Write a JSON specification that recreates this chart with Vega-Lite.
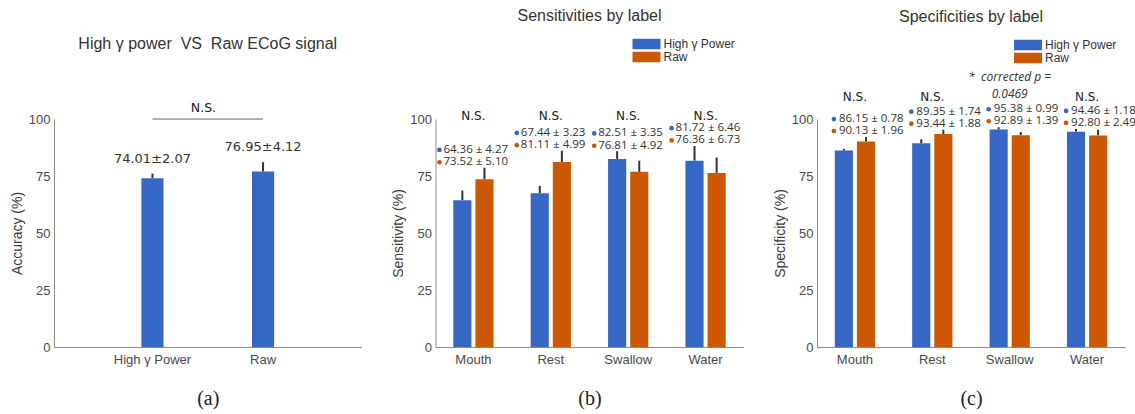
{
  "$schema": "https://vega.github.io/schema/vega-lite/v6.json",
  "background": "white",
  "padding": {"left": 10, "top": 8, "right": 5, "bottom": 2},
  "bounds": "flush",
  "spacing": 73.5,
  "config": {
    "view": {"stroke": null},
    "font": "Liberation Sans",
    "axis": {"grid": false, "ticks": false, "tickSize": 0, "domainColor": "#8c8c8c", "domainWidth": 1, "labelColor": "#4a4a4a", "labelFont": "Liberation Sans", "labelFontSize": 13, "titleFont": "Liberation Sans", "titleFontSize": 14, "titleFontWeight": "normal", "titleColor": "#3a3a3a"},
    "axisX": {"labelAngle": 0, "labelPadding": 6, "titleFont": "Liberation Serif", "titleFontSize": 20, "titleColor": "#222", "titlePadding": 22},
    "axisY": {"labelPadding": 4, "titlePadding": 4},
    "title": {"font": "Liberation Sans", "fontSize": 16, "fontWeight": "normal", "color": "#333"},
    "legend": {"orient": "none", "symbolType": "M-1,-0.75H3V0.75H-1Z", "symbolSize": 196, "symbolStrokeWidth": 0, "symbolOpacity": 1, "labelFont": "Liberation Sans", "labelFontSize": 12, "labelColor": "#333", "rowPadding": 0, "labelOffset": 17, "padding": 0}
  },
  "resolve": {"scale": {"color": "independent"}, "legend": {"color": "independent"}},
  "datasets": {
    "sens": [
      {"label": "Mouth", "series": "High γ Power", "value": 64.36, "hi": 68.63, "txt": "64.36 ± 4.27"},
      {"label": "Mouth", "series": "Raw", "value": 73.52, "hi": 78.62, "txt": "73.52 ± 5.10"},
      {"label": "Rest", "series": "High γ Power", "value": 67.44, "hi": 70.67, "txt": "67.44 ± 3.23"},
      {"label": "Rest", "series": "Raw", "value": 81.11, "hi": 86.10, "txt": "81.11 ± 4.99"},
      {"label": "Swallow", "series": "High γ Power", "value": 82.51, "hi": 85.86, "txt": "82.51 ± 3.35"},
      {"label": "Swallow", "series": "Raw", "value": 76.81, "hi": 81.73, "txt": "76.81 ± 4.92"},
      {"label": "Water", "series": "High γ Power", "value": 81.72, "hi": 88.18, "txt": "81.72 ± 6.46"},
      {"label": "Water", "series": "Raw", "value": 76.36, "hi": 83.09, "txt": "76.36 ± 6.73"}
    ],
    "spec": [
      {"label": "Mouth", "series": "High γ Power", "value": 86.15, "hi": 86.93, "txt": "86.15 ± 0.78"},
      {"label": "Mouth", "series": "Raw", "value": 90.13, "hi": 92.09, "txt": "90.13 ± 1.96"},
      {"label": "Rest", "series": "High γ Power", "value": 89.35, "hi": 91.09, "txt": "89.35 ± 1.74"},
      {"label": "Rest", "series": "Raw", "value": 93.44, "hi": 95.32, "txt": "93.44 ± 1.88"},
      {"label": "Swallow", "series": "High γ Power", "value": 95.38, "hi": 96.37, "txt": "95.38 ± 0.99"},
      {"label": "Swallow", "series": "Raw", "value": 92.89, "hi": 94.28, "txt": "92.89 ± 1.39"},
      {"label": "Water", "series": "High γ Power", "value": 94.46, "hi": 95.64, "txt": "94.46 ± 1.18"},
      {"label": "Water", "series": "Raw", "value": 92.80, "hi": 95.29, "txt": "92.80 ± 2.49"}
    ]
  },
  "hconcat": [
    {
      "width": 307.5, "height": 228,
      "title": {"text": "High γ power\u00a0\u00a0VS\u00a0\u00a0Raw ECoG signal", "offset": 50},
      "data": {"values": [
        {"cond": "High γ Power", "value": 74.01, "hi": 76.08, "txt": "74.01±2.07"},
        {"cond": "Raw", "value": 76.95, "hi": 81.07, "txt": "76.95±4.12"}
      ]},
      "layer": [
        {"mark": {"type": "rule", "color": "#333", "strokeWidth": 2},
         "encoding": {
           "x": {"field": "cond", "type": "nominal", "sort": null, "scale": {"paddingInner": 0.8, "paddingOuter": 0.79}, "axis": {"title": "(a)"}},
           "y": {"field": "value", "type": "quantitative", "scale": {"domain": [0, 100], "nice": false}, "axis": {"title": "Accuracy (%)", "values": [0, 25, 50, 75, 100]}},
           "y2": {"field": "hi"}}},
        {"mark": {"type": "bar", "color": "#3567C3"},
         "encoding": {
           "x": {"field": "cond", "type": "nominal", "sort": null},
           "y": {"field": "value", "type": "quantitative"}}},
        {"mark": {"type": "text", "baseline": "middle", "dy": -15, "font": "DejaVu Sans", "fontSize": 13, "color": "#333"},
         "encoding": {
           "x": {"field": "cond", "type": "nominal", "sort": null},
           "y": {"field": "hi", "type": "quantitative"},
           "text": {"field": "txt"}}},
        {"transform": [{"filter": "datum.cond === 'High γ Power'"}],
         "mark": {"type": "rule", "color": "#666", "strokeWidth": 1},
         "encoding": {
           "x": {"datum": "High γ Power"},
           "x2": {"datum": "Raw"},
           "y": {"datum": 100}}},
        {"transform": [{"filter": "datum.cond === 'High γ Power'"}],
         "mark": {"type": "text", "baseline": "middle", "dx": 51, "font": "DejaVu Sans", "fontSize": 12.5, "fontWeight": "normal", "color": "#222"},
         "encoding": {
           "x": {"field": "cond", "type": "nominal", "sort": null},
           "y": {"datum": 104.8},
           "text": {"value": "N.S."}}}
      ]
    },
    {
      "width": 308, "height": 228,
      "title": {"text": "Sensitivities by label", "offset": 13},
      "data": {"name": "sens"},
      "layer": [
        {"mark": {"type": "rule", "color": "#333", "strokeWidth": 2},
         "encoding": {
           "x": {"field": "label", "type": "nominal", "sort": null, "scale": {"paddingInner": 0.48, "paddingOuter": 0.23}, "axis": {"title": "(b)"}},
           "xOffset": {"field": "series", "type": "nominal", "sort": null, "scale": {"paddingInner": 0.18, "paddingOuter": 0}},
           "y": {"field": "value", "type": "quantitative", "scale": {"domain": [0, 100], "nice": false}, "axis": {"title": "Sensitivity (%)", "values": [0, 25, 50, 75, 100]}},
           "y2": {"field": "hi"}}},
        {"mark": {"type": "bar"},
         "encoding": {
           "x": {"field": "label", "type": "nominal", "sort": null},
           "xOffset": {"field": "series", "type": "nominal", "sort": null},
           "y": {"field": "value", "type": "quantitative"},
           "color": {"field": "series", "type": "nominal", "sort": null, "scale": {"domain": ["High γ Power", "Raw"], "range": ["#3567C3", "#CC5803"]}, "legend": {"title": null, "legendX": 197, "legendY": -82}}}},
        {"transform": [{"joinaggregate": [{"op": "max", "field": "hi", "as": "gmax"}], "groupby": ["label"]}, {"filter": "datum.series === 'High γ Power'"}],
         "mark": {"type": "text", "align": "left", "baseline": "middle", "dx": -30, "dy": -17.8, "font": "Open Sans", "fontSize": 11.5, "color": "#333"},
         "encoding": {"x": {"field": "label", "type": "nominal", "sort": null}, "y": {"field": "gmax", "type": "quantitative"}, "text": {"field": "txt"}}},
        {"transform": [{"joinaggregate": [{"op": "max", "field": "hi", "as": "gmax"}], "groupby": ["label"]}, {"filter": "datum.series === 'Raw'"}],
         "mark": {"type": "text", "align": "left", "baseline": "middle", "dx": -30, "dy": -5.5, "font": "Open Sans", "fontSize": 11.5, "color": "#333"},
         "encoding": {"x": {"field": "label", "type": "nominal", "sort": null}, "y": {"field": "gmax", "type": "quantitative"}, "text": {"field": "txt"}}},
        {"transform": [{"joinaggregate": [{"op": "max", "field": "hi", "as": "gmax"}], "groupby": ["label"]}, {"filter": "datum.series === 'High γ Power'"}],
         "mark": {"type": "point", "filled": true, "size": 22, "opacity": 1, "color": "#3567C3", "xOffset": -34, "yOffset": -17.8},
         "encoding": {"x": {"field": "label", "type": "nominal", "sort": null}, "y": {"field": "gmax", "type": "quantitative"}}},
        {"transform": [{"joinaggregate": [{"op": "max", "field": "hi", "as": "gmax"}], "groupby": ["label"]}, {"filter": "datum.series === 'Raw'"}],
         "mark": {"type": "point", "filled": true, "size": 22, "opacity": 1, "color": "#CC5803", "xOffset": -34, "yOffset": -5.5},
         "encoding": {"x": {"field": "label", "type": "nominal", "sort": null}, "y": {"field": "gmax", "type": "quantitative"}}},
        {"transform": [{"filter": "datum.series === 'High γ Power'"}],
         "mark": {"type": "text", "baseline": "middle", "font": "DejaVu Sans", "fontSize": 12, "color": "#222"},
         "encoding": {"x": {"field": "label", "type": "nominal", "sort": null}, "y": {"datum": 101.2}, "text": {"value": "N.S."}}}
      ]
    },
    {
      "width": 308, "height": 228,
      "title": {"text": "Specificities by label", "offset": 13},
      "data": {"name": "spec"},
      "layer": [
        {"mark": {"type": "rule", "color": "#333", "strokeWidth": 2},
         "encoding": {
           "x": {"field": "label", "type": "nominal", "sort": null, "scale": {"paddingInner": 0.48, "paddingOuter": 0.23}, "axis": {"title": "(c)"}},
           "xOffset": {"field": "series", "type": "nominal", "sort": null, "scale": {"paddingInner": 0.18, "paddingOuter": 0}},
           "y": {"field": "value", "type": "quantitative", "scale": {"domain": [0, 100], "nice": false}, "axis": {"title": "Specificity (%)", "values": [0, 25, 50, 75, 100]}},
           "y2": {"field": "hi"}}},
        {"mark": {"type": "bar"},
         "encoding": {
           "x": {"field": "label", "type": "nominal", "sort": null},
           "xOffset": {"field": "series", "type": "nominal", "sort": null},
           "y": {"field": "value", "type": "quantitative"},
           "color": {"field": "series", "type": "nominal", "sort": null, "scale": {"domain": ["High γ Power", "Raw"], "range": ["#3567C3", "#CC5803"]}, "legend": {"title": null, "legendX": 197, "legendY": -81}}}},
        {"transform": [{"joinaggregate": [{"op": "max", "field": "hi", "as": "gmax"}], "groupby": ["label"]}, {"filter": "datum.series === 'High γ Power'"}],
         "mark": {"type": "text", "align": "left", "baseline": "middle", "dx": -16, "dy": -18, "font": "Open Sans", "fontSize": 11.5, "color": "#333"},
         "encoding": {"x": {"field": "label", "type": "nominal", "sort": null}, "y": {"field": "gmax", "type": "quantitative"}, "text": {"field": "txt"}}},
        {"transform": [{"joinaggregate": [{"op": "max", "field": "hi", "as": "gmax"}], "groupby": ["label"]}, {"filter": "datum.series === 'Raw'"}],
         "mark": {"type": "text", "align": "left", "baseline": "middle", "dx": -16, "dy": -6, "font": "Open Sans", "fontSize": 11.5, "color": "#333"},
         "encoding": {"x": {"field": "label", "type": "nominal", "sort": null}, "y": {"field": "gmax", "type": "quantitative"}, "text": {"field": "txt"}}},
        {"transform": [{"joinaggregate": [{"op": "max", "field": "hi", "as": "gmax"}], "groupby": ["label"]}, {"filter": "datum.series === 'High γ Power'"}],
         "mark": {"type": "point", "filled": true, "size": 22, "opacity": 1, "color": "#3567C3", "xOffset": -21, "yOffset": -18},
         "encoding": {"x": {"field": "label", "type": "nominal", "sort": null}, "y": {"field": "gmax", "type": "quantitative"}}},
        {"transform": [{"joinaggregate": [{"op": "max", "field": "hi", "as": "gmax"}], "groupby": ["label"]}, {"filter": "datum.series === 'Raw'"}],
         "mark": {"type": "point", "filled": true, "size": 22, "opacity": 1, "color": "#CC5803", "xOffset": -21, "yOffset": -6},
         "encoding": {"x": {"field": "label", "type": "nominal", "sort": null}, "y": {"field": "gmax", "type": "quantitative"}}},
        {"transform": [{"filter": "datum.series === 'High γ Power' && datum.label !== 'Swallow'"}],
         "mark": {"type": "text", "baseline": "middle", "font": "DejaVu Sans", "fontSize": 12, "color": "#222"},
         "encoding": {"x": {"field": "label", "type": "nominal", "sort": null}, "y": {"datum": 109.6}, "text": {"value": "N.S."}}},
        {"transform": [{"filter": "datum.series === 'High γ Power' && datum.label === 'Swallow'"}],
         "mark": {"type": "text", "baseline": "middle", "font": "Open Sans", "fontStyle": "italic", "fontWeight": "normal", "fontSize": 12, "lineHeight": 17, "color": "#333"},
         "encoding": {"x": {"field": "label", "type": "nominal", "sort": null}, "y": {"datum": 118.5}, "text": {"value": ["*\u00a0\u00a0corrected p =", "0.0469"]}}}
      ]
    }
  ]
}
